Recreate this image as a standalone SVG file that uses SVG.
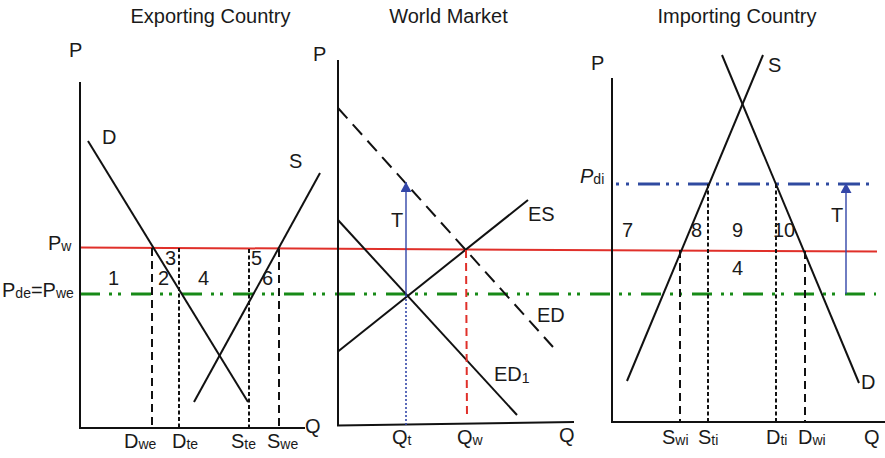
<svg xmlns="http://www.w3.org/2000/svg" width="885" height="458" viewBox="0 0 885 458">
<style>
text{font-family:"Liberation Sans",Arial,sans-serif;font-size:20px;fill:#1a1a1a}
.sub{font-size:14px}
.ax{stroke:#111;stroke-width:2;fill:none}
.cv{stroke:#111;stroke-width:2;fill:none}
.ld{stroke:#111;stroke-width:2;stroke-dasharray:8 5;fill:none}
.sd{stroke:#111;stroke-width:2;stroke-dasharray:4 2.5;fill:none}
.blu{stroke:#3346a8;stroke-width:1.4;fill:none}
</style>
<defs>
<marker id="ah" viewBox="0 0 10 11" refX="10" refY="5.5" markerWidth="10" markerHeight="11" markerUnits="userSpaceOnUse" orient="auto">
<path d="M0,0 L10,5.5 L0,11 Z" fill="#3346a8"/>
</marker>
</defs>
<rect width="885" height="458" fill="#fff"/>

<g id="titles">
<text x="210.5" y="23" text-anchor="middle">Exporting Country</text>
<text x="448.5" y="23" text-anchor="middle">World Market</text>
<text x="737" y="23" text-anchor="middle">Importing Country</text>
</g>

<g id="price-lines">
<line x1="80" y1="247.5" x2="877" y2="251.5" stroke="#e0302a" stroke-width="2"/>
<line x1="80" y1="294" x2="876" y2="294" stroke="#178a17" stroke-width="3" stroke-dasharray="20 9 3 6 3 10"/>
<line x1="616" y1="184" x2="876" y2="184" stroke="#2f4aa0" stroke-width="3" stroke-dasharray="3 7 3 9 22 6"/>
</g>

<g id="exporting">
<polyline class="ax" points="80,82 80,428 305,428"/>
<line class="cv" x1="88" y1="141" x2="248" y2="402"/>
<line class="cv" x1="320" y1="173" x2="194" y2="402"/>
<line class="ld" x1="152" y1="248" x2="152" y2="428"/>
<line class="sd" x1="179" y1="248" x2="179" y2="428"/>
<line class="sd" x1="249" y1="249" x2="249" y2="428"/>
<line class="ld" x1="279" y1="249" x2="279" y2="426"/>
<text x="69" y="57">P</text>
<text x="102" y="144">D</text>
<text x="289" y="168">S</text>
<text x="48" y="250">P<tspan class="sub" dy="1">w</tspan></text>
<text x="2" y="297">P<tspan class="sub" dy="1">de</tspan><tspan dy="-1">=P</tspan><tspan class="sub" dy="1">we</tspan></text>
<text x="108" y="285">1</text>
<text x="158" y="285">2</text>
<text x="165" y="265">3</text>
<text x="198" y="285">4</text>
<text x="251" y="265">5</text>
<text x="262" y="285">6</text>
<text x="305" y="433">Q</text>
<text x="124" y="448">D<tspan class="sub" dy="1">we</tspan></text>
<text x="172" y="448">D<tspan class="sub" dy="1">te</tspan></text>
<text x="231" y="448">S<tspan class="sub" dy="1">te</tspan></text>
<text x="267" y="448">S<tspan class="sub" dy="1">we</tspan></text>
</g>

<g id="world">
<polyline class="ax" points="338,60 338,425.5 574,422"/>
<line x1="338" y1="108" x2="553" y2="347" stroke="#111" stroke-width="2" stroke-dasharray="14 8"/>
<line class="cv" x1="338" y1="220" x2="517" y2="415"/>
<line class="cv" x1="338" y1="351.5" x2="528" y2="200"/>
<line x1="406" y1="295" x2="406" y2="425" stroke="#3346a8" stroke-width="1.6" stroke-dasharray="2 2"/>
<line x1="466" y1="250" x2="467" y2="418" stroke="#e0302a" stroke-width="2" stroke-dasharray="8 5"/>
<text x="313" y="61">P</text>
<text x="391" y="227">T</text>
<text x="528" y="221">ES</text>
<text x="537" y="322">ED</text>
<text x="494" y="381">ED<tspan class="sub" dy="2">1</tspan></text>
<text x="392" y="444">Q<tspan class="sub" dy="1">t</tspan></text>
<text x="457" y="444">Q<tspan class="sub" dy="1">w</tspan></text>
<text x="559" y="442">Q</text>
</g>

<g id="importing">
<polyline class="ax" points="612,78 612,422 885,422"/>
<line class="cv" x1="627" y1="381" x2="763" y2="55"/>
<line class="cv" x1="722" y1="55" x2="859" y2="383"/>
<line class="ld" x1="680" y1="250" x2="680" y2="422"/>
<line class="sd" x1="708" y1="184" x2="708" y2="422"/>
<line class="sd" x1="776" y1="184" x2="776" y2="422"/>
<line class="ld" x1="805" y1="251" x2="805" y2="422"/>
<text x="591" y="70">P</text>
<text x="768" y="72">S</text>
<text x="861" y="389">D</text>
<text x="580" y="183"><tspan font-style="italic">P</tspan><tspan class="sub" dy="1">di</tspan></text>
<text x="831" y="222">T</text>
<text x="622" y="237">7</text>
<text x="691" y="237">8</text>
<text x="732" y="237">9</text>
<text x="773" y="237">10</text>
<text x="732" y="275">4</text>
<text x="662" y="444">S<tspan class="sub" dy="1">wi</tspan></text>
<text x="698" y="444">S<tspan class="sub" dy="1">ti</tspan></text>
<text x="766" y="444">D<tspan class="sub" dy="1">ti</tspan></text>
<text x="798" y="444">D<tspan class="sub" dy="1">wi</tspan></text>
<text x="864" y="444">Q</text>
</g>

<g id="connectors">
<line class="blu" x1="406" y1="295" x2="406" y2="182" marker-end="url(#ah)"/>
<line class="blu" x1="846" y1="294" x2="846" y2="183" marker-end="url(#ah)"/>
</g>
</svg>
